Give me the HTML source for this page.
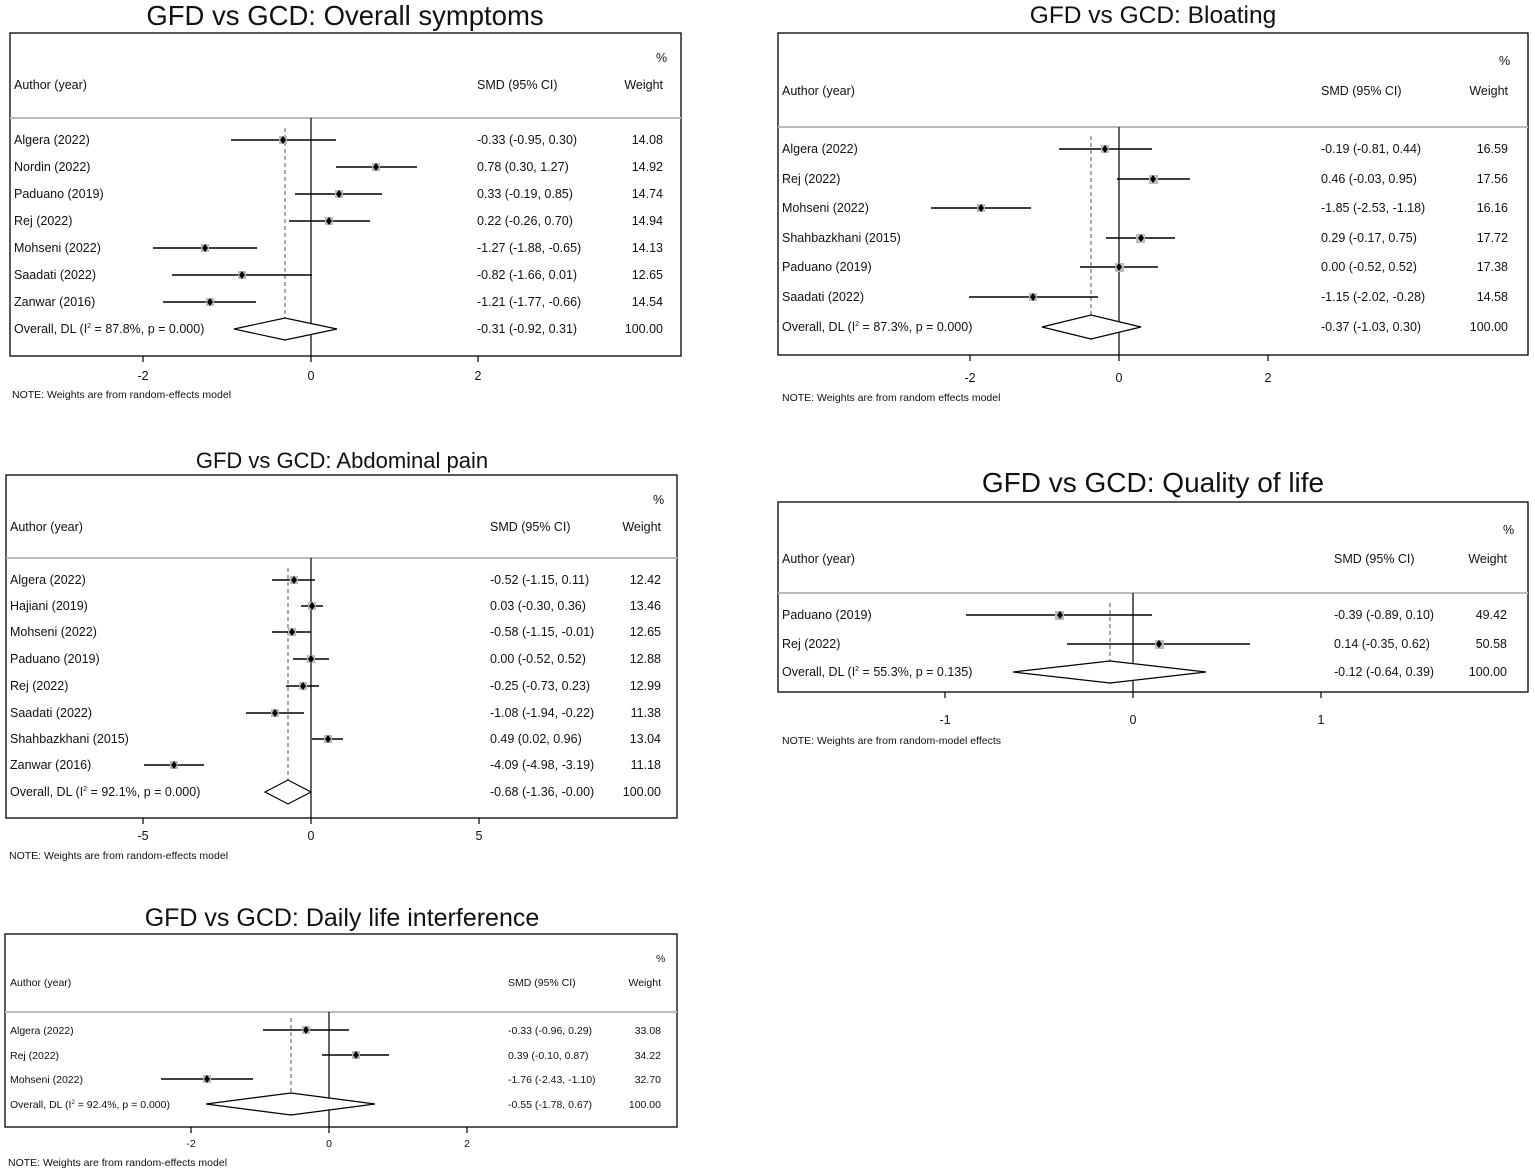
<!DOCTYPE html>
<html><head><meta charset="utf-8"><style>
html,body{margin:0;padding:0;background:#fff}
svg{display:block}
text{font-family:"Liberation Sans",Arial,sans-serif;fill:#111}
.t{font-size:12.5px}
.s{font-size:10.5px}
.ttl{font-size:23px;text-anchor:middle}
.r{text-anchor:end}
.m{text-anchor:middle}
.ci{stroke:#000;stroke-width:1.6}
.sq{fill:#bbb}
.dm{fill:#000}
.box{fill:none;stroke:#000;stroke-width:1.3}
.sep{stroke:#bbb;stroke-width:2}
.z{stroke:#000;stroke-width:1.2}
.dash{stroke:#555;stroke-width:1;stroke-dasharray:4,3}
.ov{fill:#fff;stroke:#000;stroke-width:1.2}
</style></head><body>
<svg width="1535" height="1173" viewBox="0 0 1535 1173" xmlns="http://www.w3.org/2000/svg">

<!-- Panel 1 -->
<text class="ttl" x="345" y="25" style="font-size:27.5px">GFD vs GCD: Overall symptoms</text>
<rect class="box" x="10" y="33" width="671" height="323"/>
<line class="sep" x1="10" y1="118" x2="681" y2="118"/>
<line class="z" x1="311" y1="118" x2="311" y2="356"/>
<line class="dash" x1="285" y1="128" x2="285" y2="340"/>
<text class="t" x="656" y="62">%</text>
<text class="t" x="14" y="89">Author (year)</text>
<text class="t" x="477" y="89">SMD (95% CI)</text>
<text class="t r" x="663" y="89">Weight</text>
<g class="t">
<text x="14" y="144">Algera (2022)</text><text x="477" y="144">-0.33 (-0.95, 0.30)</text><text class="r" x="663" y="144">14.08</text>
<text x="14" y="171">Nordin (2022)</text><text x="477" y="171">0.78 (0.30, 1.27)</text><text class="r" x="663" y="171">14.92</text>
<text x="14" y="198">Paduano (2019)</text><text x="477" y="198">0.33 (-0.19, 0.85)</text><text class="r" x="663" y="198">14.74</text>
<text x="14" y="225">Rej (2022)</text><text x="477" y="225">0.22 (-0.26, 0.70)</text><text class="r" x="663" y="225">14.94</text>
<text x="14" y="252">Mohseni (2022)</text><text x="477" y="252">-1.27 (-1.88, -0.65)</text><text class="r" x="663" y="252">14.13</text>
<text x="14" y="279">Saadati (2022)</text><text x="477" y="279">-0.82 (-1.66, 0.01)</text><text class="r" x="663" y="279">12.65</text>
<text x="14" y="306">Zanwar (2016)</text><text x="477" y="306">-1.21 (-1.77, -0.66)</text><text class="r" x="663" y="306">14.54</text>
<text x="14" y="333">Overall, DL (I<tspan dy="-5" font-size="7">2</tspan><tspan dy="5"> = 87.8%, p = 0.000)</tspan></text><text x="477" y="333">-0.31 (-0.92, 0.31)</text><text class="r" x="663" y="333">100.00</text>
</g>
<g>
<line class="ci" x1="231" y1="140" x2="336" y2="140"/><rect class="sq" x="279" y="136" width="8" height="8"/><path class="dm" d="M283 136l3 4-3 4-3-4z"/>
<line class="ci" x1="336" y1="167" x2="417" y2="167"/><rect class="sq" x="372" y="163" width="8" height="8"/><path class="dm" d="M376 163l3 4-3 4-3-4z"/>
<line class="ci" x1="295" y1="194" x2="382" y2="194"/><rect class="sq" x="335" y="190" width="8" height="8"/><path class="dm" d="M339 190l3 4-3 4-3-4z"/>
<line class="ci" x1="289" y1="221" x2="370" y2="221"/><rect class="sq" x="325" y="217" width="8" height="8"/><path class="dm" d="M329 217l3 4-3 4-3-4z"/>
<line class="ci" x1="153" y1="248" x2="257" y2="248"/><rect class="sq" x="201" y="244" width="8" height="8"/><path class="dm" d="M205 244l3 4-3 4-3-4z"/>
<line class="ci" x1="172" y1="275" x2="312" y2="275"/><rect class="sq" x="238" y="271" width="8" height="8"/><path class="dm" d="M242 271l3 4-3 4-3-4z"/>
<line class="ci" x1="163" y1="302" x2="256" y2="302"/><rect class="sq" x="206" y="298" width="8" height="8"/><path class="dm" d="M210 298l3 4-3 4-3-4z"/>
<path class="ov" d="M234 329L285 318L337 329L285 340z"/>
</g>
<line class="z" x1="143" y1="356" x2="143" y2="362"/><line class="z" x1="311" y1="356" x2="311" y2="362"/><line class="z" x1="478" y1="356" x2="478" y2="362"/>
<text class="t m" x="143" y="380">-2</text><text class="t m" x="311" y="380">0</text><text class="t m" x="478" y="380">2</text>
<text class="s" x="12" y="398">NOTE: Weights are from random-effects model</text>

<!-- Panel 2 -->
<text class="ttl" x="1153" y="23" style="font-size:24.5px">GFD vs GCD: Bloating</text>
<rect class="box" x="778" y="33" width="750" height="322"/>
<line class="sep" x1="778" y1="127" x2="1528" y2="127"/>
<line class="z" x1="1119" y1="127" x2="1119" y2="355"/>
<line class="dash" x1="1091" y1="136" x2="1091" y2="340"/>
<text class="t" x="1499" y="65">%</text>
<text class="t" x="782" y="95">Author (year)</text>
<text class="t" x="1321" y="95">SMD (95% CI)</text>
<text class="t r" x="1508" y="95">Weight</text>
<g class="t">
<text x="782" y="153">Algera (2022)</text><text x="1321" y="153">-0.19 (-0.81, 0.44)</text><text class="r" x="1508" y="153">16.59</text>
<text x="782" y="183">Rej (2022)</text><text x="1321" y="183">0.46 (-0.03, 0.95)</text><text class="r" x="1508" y="183">17.56</text>
<text x="782" y="212">Mohseni (2022)</text><text x="1321" y="212">-1.85 (-2.53, -1.18)</text><text class="r" x="1508" y="212">16.16</text>
<text x="782" y="242">Shahbazkhani (2015)</text><text x="1321" y="242">0.29 (-0.17, 0.75)</text><text class="r" x="1508" y="242">17.72</text>
<text x="782" y="271">Paduano (2019)</text><text x="1321" y="271">0.00 (-0.52, 0.52)</text><text class="r" x="1508" y="271">17.38</text>
<text x="782" y="301">Saadati (2022)</text><text x="1321" y="301">-1.15 (-2.02, -0.28)</text><text class="r" x="1508" y="301">14.58</text>
<text x="782" y="331">Overall, DL (I<tspan dy="-5" font-size="7">2</tspan><tspan dy="5"> = 87.3%, p = 0.000)</tspan></text><text x="1321" y="331">-0.37 (-1.03, 0.30)</text><text class="r" x="1508" y="331">100.00</text>
</g>
<g>
<line class="ci" x1="1059" y1="149" x2="1152" y2="149"/><rect class="sq" x="1101" y="145" width="8" height="8"/><path class="dm" d="M1105 145l3 4-3 4-3-4z"/>
<line class="ci" x1="1117" y1="179" x2="1190" y2="179"/><rect class="sq" x="1149" y="175" width="9" height="9"/><path class="dm" d="M1153 175l3 4-3 4-3-4z"/>
<line class="ci" x1="931" y1="208" x2="1031" y2="208"/><rect class="sq" x="977" y="204" width="8" height="8"/><path class="dm" d="M981 204l3 4-3 4-3-4z"/>
<line class="ci" x1="1106" y1="238" x2="1175" y2="238"/><rect class="sq" x="1136" y="234" width="9" height="9"/><path class="dm" d="M1141 234l3 4-3 4-3-4z"/>
<line class="ci" x1="1080" y1="267" x2="1158" y2="267"/><rect class="sq" x="1115" y="263" width="9" height="9"/><path class="dm" d="M1119 263l3 4-3 4-3-4z"/>
<line class="ci" x1="969" y1="297" x2="1098" y2="297"/><rect class="sq" x="1029" y="293" width="8" height="8"/><path class="dm" d="M1033 293l3 4-3 4-3-4z"/>
<path class="ov" d="M1042 327L1091 315L1141 327L1091 339z"/>
</g>
<line class="z" x1="970" y1="355" x2="970" y2="361"/><line class="z" x1="1119" y1="355" x2="1119" y2="361"/><line class="z" x1="1268" y1="355" x2="1268" y2="361"/>
<text class="t m" x="970" y="382">-2</text><text class="t m" x="1119" y="382">0</text><text class="t m" x="1268" y="382">2</text>
<text class="s" x="782" y="401">NOTE: Weights are from random effects model</text>

<!-- Panel 3 -->
<text class="ttl" x="342" y="468" style="font-size:22px">GFD vs GCD: Abdominal pain</text>
<rect class="box" x="6" y="475" width="671" height="343"/>
<line class="sep" x1="6" y1="558" x2="677" y2="558"/>
<line class="z" x1="311" y1="558" x2="311" y2="818"/>
<line class="dash" x1="288" y1="568" x2="288" y2="804"/>
<text class="t" x="653" y="504">%</text>
<text class="t" x="10" y="531">Author (year)</text>
<text class="t" x="490" y="531">SMD (95% CI)</text>
<text class="t r" x="661" y="531">Weight</text>
<g class="t">
<text x="10" y="584">Algera (2022)</text><text x="490" y="584">-0.52 (-1.15, 0.11)</text><text class="r" x="661" y="584">12.42</text>
<text x="10" y="610">Hajiani (2019)</text><text x="490" y="610">0.03 (-0.30, 0.36)</text><text class="r" x="661" y="610">13.46</text>
<text x="10" y="636">Mohseni (2022)</text><text x="490" y="636">-0.58 (-1.15, -0.01)</text><text class="r" x="661" y="636">12.65</text>
<text x="10" y="663">Paduano (2019)</text><text x="490" y="663">0.00 (-0.52, 0.52)</text><text class="r" x="661" y="663">12.88</text>
<text x="10" y="690">Rej (2022)</text><text x="490" y="690">-0.25 (-0.73, 0.23)</text><text class="r" x="661" y="690">12.99</text>
<text x="10" y="717">Saadati (2022)</text><text x="490" y="717">-1.08 (-1.94, -0.22)</text><text class="r" x="661" y="717">11.38</text>
<text x="10" y="743">Shahbazkhani (2015)</text><text x="490" y="743">0.49 (0.02, 0.96)</text><text class="r" x="661" y="743">13.04</text>
<text x="10" y="769">Zanwar (2016)</text><text x="490" y="769">-4.09 (-4.98, -3.19)</text><text class="r" x="661" y="769">11.18</text>
<text x="10" y="796">Overall, DL (I<tspan dy="-5" font-size="7">2</tspan><tspan dy="5"> = 92.1%, p = 0.000)</tspan></text><text x="490" y="796">-0.68 (-1.36, -0.00)</text><text class="r" x="661" y="796">100.00</text>
</g>
<g>
<line class="ci" x1="272" y1="580" x2="315" y2="580"/><rect class="sq" x="290" y="576" width="8" height="8"/><path class="dm" d="M294 576l3 4-3 4-3-4z"/>
<line class="ci" x1="301" y1="606" x2="323" y2="606"/><rect class="sq" x="308" y="602" width="8" height="8"/><path class="dm" d="M312 602l3 4-3 4-3-4z"/>
<line class="ci" x1="272" y1="632" x2="311" y2="632"/><rect class="sq" x="288" y="628" width="8" height="8"/><path class="dm" d="M292 628l3 4-3 4-3-4z"/>
<line class="ci" x1="293" y1="659" x2="329" y2="659"/><rect class="sq" x="307" y="655" width="8" height="8"/><path class="dm" d="M311 655l3 4-3 4-3-4z"/>
<line class="ci" x1="286" y1="686" x2="319" y2="686"/><rect class="sq" x="299" y="682" width="8" height="8"/><path class="dm" d="M303 682l3 4-3 4-3-4z"/>
<line class="ci" x1="246" y1="713" x2="304" y2="713"/><rect class="sq" x="271" y="709" width="8" height="8"/><path class="dm" d="M275 709l3 4-3 4-3-4z"/>
<line class="ci" x1="312" y1="739" x2="343" y2="739"/><rect class="sq" x="324" y="735" width="8" height="8"/><path class="dm" d="M328 735l3 4-3 4-3-4z"/>
<line class="ci" x1="144" y1="765" x2="204" y2="765"/><rect class="sq" x="170" y="761" width="8" height="8"/><path class="dm" d="M174 761l3 4-3 4-3-4z"/>
<path class="ov" d="M265 792L288 780L311 792L288 804z"/>
</g>
<line class="z" x1="143" y1="818" x2="143" y2="824"/><line class="z" x1="311" y1="818" x2="311" y2="824"/><line class="z" x1="479" y1="818" x2="479" y2="824"/>
<text class="t m" x="143" y="840">-5</text><text class="t m" x="311" y="840">0</text><text class="t m" x="479" y="840">5</text>
<text class="s" x="9" y="859">NOTE: Weights are from random-effects model</text>

<!-- Panel 4 -->
<text class="ttl" x="1153" y="492" style="font-size:28px">GFD vs GCD: Quality of life</text>
<rect class="box" x="778" y="502" width="750" height="190"/>
<line class="sep" x1="778" y1="593" x2="1528" y2="593"/>
<line class="z" x1="1133" y1="593" x2="1133" y2="692"/>
<line class="dash" x1="1110" y1="603" x2="1110" y2="684"/>
<text class="t" x="1503" y="534">%</text>
<text class="t" x="782" y="563">Author (year)</text>
<text class="t" x="1334" y="563">SMD (95% CI)</text>
<text class="t r" x="1507" y="563">Weight</text>
<g class="t">
<text x="782" y="619">Paduano (2019)</text><text x="1334" y="619">-0.39 (-0.89, 0.10)</text><text class="r" x="1507" y="619">49.42</text>
<text x="782" y="648">Rej (2022)</text><text x="1334" y="648">0.14 (-0.35, 0.62)</text><text class="r" x="1507" y="648">50.58</text>
<text x="782" y="676">Overall, DL (I<tspan dy="-5" font-size="7">2</tspan><tspan dy="5"> = 55.3%, p = 0.135)</tspan></text><text x="1334" y="676">-0.12 (-0.64, 0.39)</text><text class="r" x="1507" y="676">100.00</text>
</g>
<g>
<line class="ci" x1="966" y1="615" x2="1152" y2="615"/><rect class="sq" x="1055" y="611" width="9" height="9"/><path class="dm" d="M1060 611l3 4-3 4-3-4z"/>
<line class="ci" x1="1067" y1="644" x2="1250" y2="644"/><rect class="sq" x="1155" y="640" width="9" height="9"/><path class="dm" d="M1159 640l3 4-3 4-3-4z"/>
<path class="ov" d="M1013 672L1110 661L1206 672L1110 683z"/>
</g>
<line class="z" x1="945" y1="692" x2="945" y2="698"/><line class="z" x1="1133" y1="692" x2="1133" y2="698"/><line class="z" x1="1321" y1="692" x2="1321" y2="698"/>
<text class="t m" x="945" y="724">-1</text><text class="t m" x="1133" y="724">0</text><text class="t m" x="1321" y="724">1</text>
<text class="s" x="782" y="744">NOTE: Weights are from random-model effects</text>

<!-- Panel 5 -->
<text class="ttl" x="342" y="926" style="font-size:25px">GFD vs GCD: Daily life interference</text>
<rect class="box" x="5" y="934" width="672" height="193"/>
<line class="sep" x1="5" y1="1012" x2="677" y2="1012"/>
<line class="z" x1="329" y1="1012" x2="329" y2="1127"/>
<line class="dash" x1="291" y1="1018" x2="291" y2="1116"/>
<text class="s" x="656" y="962">%</text>
<text class="s" x="10" y="986">Author (year)</text>
<text class="s" x="508" y="986">SMD (95% CI)</text>
<text class="s r" x="661" y="986">Weight</text>
<g class="s">
<text x="10" y="1034">Algera (2022)</text><text x="508" y="1034">-0.33 (-0.96, 0.29)</text><text class="r" x="661" y="1034">33.08</text>
<text x="10" y="1059">Rej (2022)</text><text x="508" y="1059">0.39 (-0.10, 0.87)</text><text class="r" x="661" y="1059">34.22</text>
<text x="10" y="1083">Mohseni (2022)</text><text x="508" y="1083">-1.76 (-2.43, -1.10)</text><text class="r" x="661" y="1083">32.70</text>
<text x="10" y="1108">Overall, DL (I<tspan dy="-4" font-size="6">2</tspan><tspan dy="4"> = 92.4%, p = 0.000)</tspan></text><text x="508" y="1108">-0.55 (-1.78, 0.67)</text><text class="r" x="661" y="1108">100.00</text>
</g>
<g>
<line class="ci" x1="263" y1="1030" x2="349" y2="1030"/><rect class="sq" x="302" y="1026" width="8" height="8"/><path class="dm" d="M306 1026l3 4-3 4-3-4z"/>
<line class="ci" x1="322" y1="1055" x2="389" y2="1055"/><rect class="sq" x="352" y="1051" width="8" height="8"/><path class="dm" d="M356 1051l3 4-3 4-3-4z"/>
<line class="ci" x1="161" y1="1079" x2="253" y2="1079"/><rect class="sq" x="203" y="1075" width="8" height="8"/><path class="dm" d="M207 1075l3 4-3 4-3-4z"/>
<path class="ov" d="M206 1104L291 1093L375 1104L291 1115z"/>
</g>
<line class="z" x1="191" y1="1127" x2="191" y2="1133"/><line class="z" x1="329" y1="1127" x2="329" y2="1133"/><line class="z" x1="467" y1="1127" x2="467" y2="1133"/>
<text class="s m" x="191" y="1147">-2</text><text class="s m" x="329" y="1147">0</text><text class="s m" x="467" y="1147">2</text>
<text class="s" x="8" y="1166">NOTE: Weights are from random-effects model</text>
</svg>
</body></html>
